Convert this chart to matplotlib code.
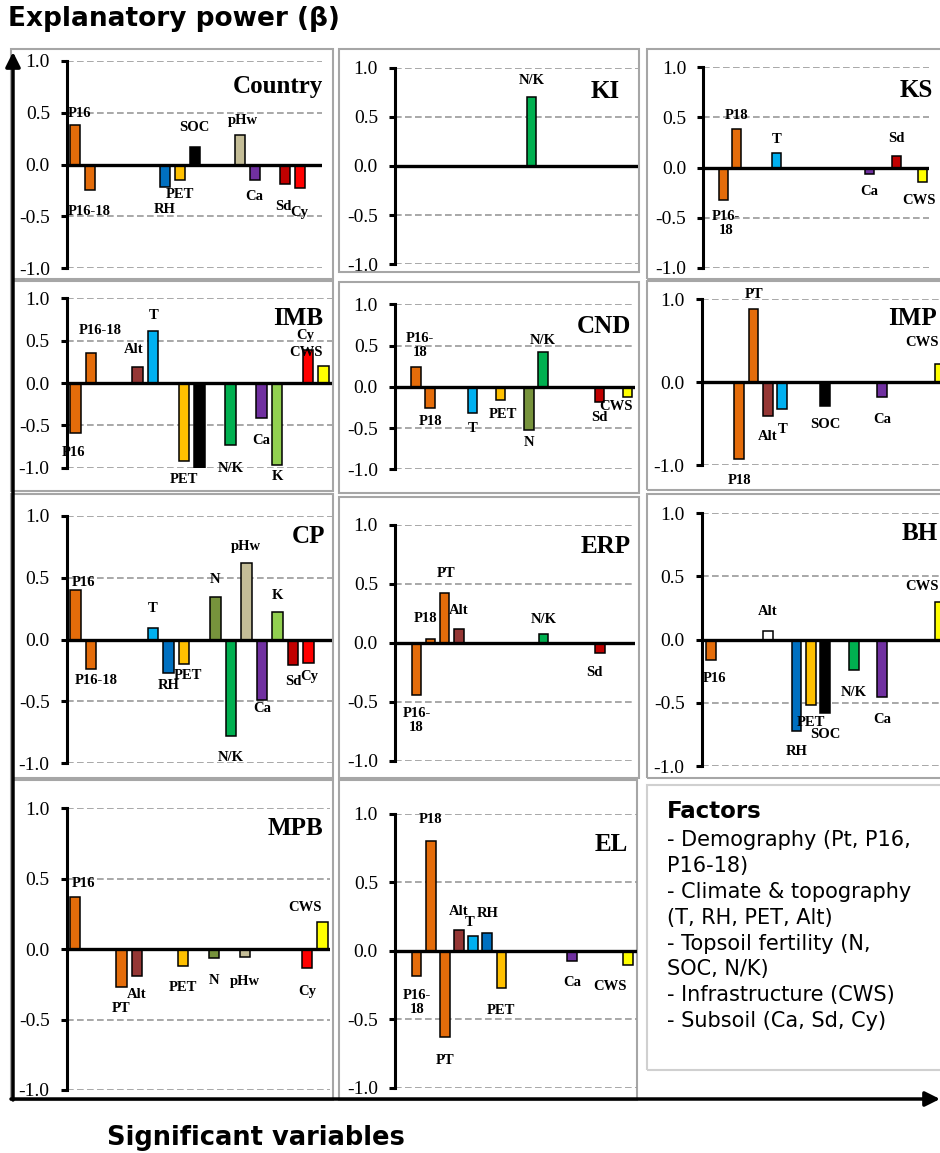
import matplotlib.pyplot as plt
from matplotlib.patches import Rectangle, FancyArrowPatch
from matplotlib.transforms import blended_transform_factory

# ------------------------
# Data
# ------------------------

# order of the variables along every panel's x axis
variables = ['P16', 'P16-18', 'P18', 'PT', 'Alt', 'T', 'RH', 'PET', 'SOC',
             'N', 'N/K', 'pHw', 'Ca', 'K', 'Sd', 'Cy', 'CWS']

colors = {
    'P16': '#E46C0A', 'P16-18': '#E46C0A', 'P18': '#E46C0A', 'PT': '#E46C0A',
    'Alt': '#953735', 'T': '#00B0F0', 'RH': '#0070C0', 'PET': '#FFC000',
    'SOC': '#000000', 'N': '#77933C', 'N/K': '#00B050', 'pHw': '#C4BD97',
    'Ca': '#7030A0', 'K': '#92D050', 'Sd': '#C00000', 'Cy': '#FF0000',
    'CWS': '#FFFF00',
}

country_vars = ['P16', 'P16-18', 'RH', 'PET', 'SOC', 'pHw', 'Ca', 'Sd', 'Cy']
country_vals = [0.385, -0.25, -0.215, -0.15, 0.17, 0.28, -0.15, -0.19, -0.23]

ki_vars = ['N/K']
ki_vals = [0.705]

ks_vars = ['P16-18', 'P18', 'T', 'Ca', 'Sd', 'CWS']
ks_vals = [-0.327, 0.386, 0.14, -0.067, 0.117, -0.14]

imb_vars = ['P16', 'P16-18', 'Alt', 'T', 'PET', 'SOC', 'N/K', 'Ca', 'K', 'Cy', 'CWS']
imb_vals = [-0.585, 0.354, 0.185, 0.61, -0.925, -1.0, -0.735, -0.41, -0.965, 0.385, 0.197]

cnd_vars = ['P16-18', 'P18', 'T', 'PET', 'N', 'N/K', 'Sd', 'CWS']
cnd_vals = [0.24, -0.26, -0.315, -0.16, -0.525, 0.424, -0.19, -0.12]

imp_vars = ['P18', 'PT', 'Alt', 'T', 'SOC', 'Ca', 'CWS']
imp_vals = [-0.92, 0.885, -0.405, -0.325, -0.285, -0.18, 0.216]

cp_vars = ['P16', 'P16-18', 'T', 'RH', 'PET', 'N', 'N/K', 'pHw', 'Ca', 'K', 'Sd', 'Cy']
cp_vals = [0.396, -0.242, 0.092, -0.269, -0.196, 0.347, -0.778, 0.614, -0.487, 0.221, -0.21, -0.186]

erp_vars = ['P16-18', 'P18', 'PT', 'Alt', 'N/K', 'Sd']
erp_vals = [-0.443, 0.034, 0.421, 0.116, 0.071, -0.09]

bh_vars = ['P16', 'Alt', 'RH', 'PET', 'SOC', 'N/K', 'Ca', 'CWS']
bh_vals = [-0.163, 0.071, -0.723, -0.518, -0.581, -0.237, -0.452, 0.30]

mpb_vars = ['P16', 'PT', 'Alt', 'PET', 'N', 'pHw', 'Cy', 'CWS']
mpb_vals = [0.372, -0.27, -0.194, -0.118, -0.066, -0.059, -0.137, 0.194]

el_vars = ['P16-18', 'P18', 'PT', 'Alt', 'T', 'RH', 'PET', 'Ca', 'CWS']
el_vals = [-0.185, 0.803, -0.633, 0.153, 0.107, 0.134, -0.275, -0.073, -0.10]

legend_title = 'Factors'
legend_lines = ['- Demography (Pt, P16,', 'P16-18)',
                '- Climate & topography', '(T, RH, PET, Alt)',
                '- Topsoil fertility (N,', 'SOC, N/K)',
                '- Infrastructure (CWS)', '- Subsoil (Ca, Sd, Cy)']

# ------------------------
# Label placement (pixel offsets from bar end) and panel layout
# ------------------------

label_offsets = {
    'Country': [(5, 11), (0, -21), (0, -23), (0, -14), (0, 19), (3, 15), (0, -16), (-1, -22), (0, -24)],
    'KI': [(0, 16)],
    'KS': [(3, -23), (0, 13), (0, 14), (0, -17), (0, 17), (-4, -19)],
    'IMB': [(-2, -20), (9, 23), (-4, 18), (0, 16), (0, -18), None, (0, -23), (0, -23), (0, -12), (-3, 15), (-18, 14)],
    'CND': [(4, 22), (0, -13), (0, -16), (2, -15), (0, -12), (0, 11), (0, -15), (-12, -10)],
    'IMP': [(0, -22), (0, 14), (0, -21), (0, -20), (0, -19), (0, -22), (-18, 22)],
    'CP': [(8, 8), (5, -11), (0, 20), (0, -13), (4, -12), (0, 17), (0, -22), (0, 17), (0, -9), (0, 17), (0, -16), (1, -14)],
    'ERP': [(0, -26), (-5, 20), (1, 20), (0, 19), (0, 15), (-5, -19)],
    'BH': [(4, -18), (0, 19), (0, -20), (0, -17), (0, -21), (0, -23), (0, -23), (-18, 15)],
    'MPB': [(8, 13), (0, -21), (0, -18), (0, -22), (0, -22), (0, -24), (0, -23), (-17, 14)],
    'EL': [(0, -26), (0, 21), (0, -23), (0, 18), (-3, 14), (0, 19), (0, -22), (0, -22), (-18, -22)],
}

# y-axis x, first slot centre, slot width, right end, y of 1.0, y of -1.0,
# title right edge, title height (data), gray frame
layout = {
    'Country': (67, 74.7, 15.0, 322, 60.7, 268.3, 323, 0.754, (11, 49, 333, 279)),
    'KI': (395, 401.2, 13.05, 638, 67.7, 264.3, 620, 0.756, (339, 49, 639, 272)),
    'KS': (703.3, 709.9, 13.3, 929.3, 67.3, 267.7, 933, 0.77, (647, 49, 945, 279)),
    'IMB': (66.7, 75.7, 15.5, 332, 298.3, 467.7, 323, 0.76, (11, 281, 333, 491)),
    'CND': (395, 402.0, 14.1, 635, 304.3, 469.3, 631, 0.735, (339, 282, 639, 493)),
    'IMP': (701.7, 710.7, 14.3, 960, 299, 465.3, 937, 0.77, (647, 281, 945, 490)),
    'CP': (66.7, 75.3, 15.55, 332, 515.7, 763.3, 325, 0.835, (11, 494, 333, 778)),
    'ERP': (395, 402.4, 14.1, 635, 524.7, 760.7, 631, 0.817, (339, 497, 639, 778)),
    'BH': (701.7, 710.7, 14.3, 960, 513, 766.3, 938, 0.84, (647, 494, 945, 778)),
    'MPB': (66.7, 75.0, 15.46, 330, 808.3, 1090, 323, 0.857, (11, 780, 333, 1100)),
    'EL': (395, 402.6, 14.1, 636.7, 814, 1087.7, 628, 0.78, (339, 780, 637, 1100)),
}

panels = [
    ('Country', country_vars, country_vals),
    ('KI', ki_vars, ki_vals),
    ('KS', ks_vars, ks_vals),
    ('IMB', imb_vars, imb_vals),
    ('CND', cnd_vars, cnd_vals),
    ('IMP', imp_vars, imp_vals),
    ('CP', cp_vars, cp_vals),
    ('ERP', erp_vars, erp_vals),
    ('BH', bh_vars, bh_vals),
    ('MPB', mpb_vars, mpb_vals),
    ('EL', el_vars, el_vals),
]

wrapped_p1618 = ['KS', 'CND', 'ERP', 'EL']

# ------------------------
# Figure
# ------------------------

W, H = 940, 1153
fig = plt.figure(figsize=(W / 100, H / 100), dpi=100)
serif = 'Liberation Serif'


def fig_rect(x0, y0, x1, y1):
    return [x0 / W, 1 - y1 / H, (x1 - x0) / W, (y1 - y0) / H]


for name, pvars, pvals in panels:
    axis_x, c0, w, right, ytop, ybot, title_r, title_y, frame = layout[name]

    fig.add_artist(Rectangle((frame[0] / W, 1 - frame[3] / H),
                             (frame[2] - frame[0]) / W, (frame[3] - frame[1]) / H,
                             transform=fig.transFigure, fill=False,
                             edgecolor='#A6A6A6', lw=1.5, zorder=0))

    ax = fig.add_axes(fig_rect(axis_x, ytop, right, ybot))
    ax.patch.set_visible(False)
    ax.set_xlim((axis_x - c0) / w, (right - c0) / w)
    ax.set_ylim(-1, 1)

    if name == 'IMP':
        ticks = [1.0, 0.0, -1.0]
    else:
        ticks = [1.0, 0.5, 0.0, -0.5, -1.0]
    for t in ticks:
        if t != 0:
            ax.axhline(t, color='#999999', lw=1.2, ls=(0, (4, 2)), zorder=1)
    ax.axhline(0, color='black', lw=2.4, zorder=4)

    xs = [variables.index(v) for v in pvars]
    bar_colors = [colors[v] for v in pvars]
    if name == 'BH':
        bar_colors[pvars.index('Alt')] = 'white'
    ax.bar(xs, pvals, width=0.68, color=bar_colors, edgecolor='black',
           linewidth=1.1, zorder=3)

    for v, x, val, off in zip(pvars, xs, pvals, label_offsets[name]):
        if off is None:
            continue
        txt = v
        if v == 'P16-18' and name in wrapped_p1618:
            txt = 'P16-\n18'
        ax.annotate(txt, xy=(x, val), xytext=off, textcoords='offset pixels',
                    ha='center', va='center', fontsize=10.5, fontweight='bold',
                    family=serif, annotation_clip=False, zorder=5,
                    linespacing=1.1)

    tr = blended_transform_factory(ax.transAxes, ax.transData)
    ax.text((title_r - axis_x) / (right - axis_x), title_y, name, transform=tr,
            ha='right', va='center', fontsize=18, fontweight='bold', family=serif)

    ax.set_xticks([])
    ax.set_yticks(ticks)
    ax.set_yticklabels([f'{t:.1f}' for t in ticks], family=serif, fontsize=14)
    ax.tick_params(axis='y', direction='out', length=4.3, width=2.2, pad=8)
    for s in ['top', 'right', 'bottom']:
        ax.spines[s].set_visible(False)
    ax.spines['left'].set_linewidth(2.2)
    ax.spines['left'].set_bounds(-1, 1)

# legend box
fig.add_artist(Rectangle((647 / W, 1 - 1070 / H), (945 - 647) / W, (1070 - 785) / H,
                         transform=fig.transFigure, fill=False,
                         edgecolor='#D0D0D0', lw=1.5, zorder=0))
fig.text(667 / W, 1 - 811.7 / H, legend_title, fontsize=16.5, fontweight='bold',
         va='center', ha='left', family='DejaVu Sans')
for i, line in enumerate(legend_lines):
    fig.text(667 / W, 1 - (840 + 25.9 * i) / H, line, fontsize=15,
             va='center', ha='left', family='DejaVu Sans')

# big axis arrows
fig.add_artist(FancyArrowPatch((13 / W, 1 - 1100 / H), (13 / W, 1 - 52 / H),
                               transform=fig.transFigure, arrowstyle='-|>',
                               mutation_scale=22, lw=2.5, color='black',
                               shrinkA=0, shrinkB=0, zorder=6))
fig.add_artist(FancyArrowPatch((11 / W, 1 - 1099 / H), (940 / W, 1 - 1099 / H),
                               transform=fig.transFigure, arrowstyle='-|>',
                               mutation_scale=22, lw=2.5, color='black',
                               shrinkA=0, shrinkB=0, zorder=6))

fig.text(8 / W, 1 - 19 / H, 'Explanatory power (\u03b2)', fontsize=19,
         fontweight='bold', ha='left', va='center', family='DejaVu Sans')
fig.text(256 / W, 1 - 1138 / H, 'Significant variables', fontsize=18.5,
         fontweight='bold', ha='center', va='center', family='DejaVu Sans')

fig.savefig('out.png', dpi=100)
